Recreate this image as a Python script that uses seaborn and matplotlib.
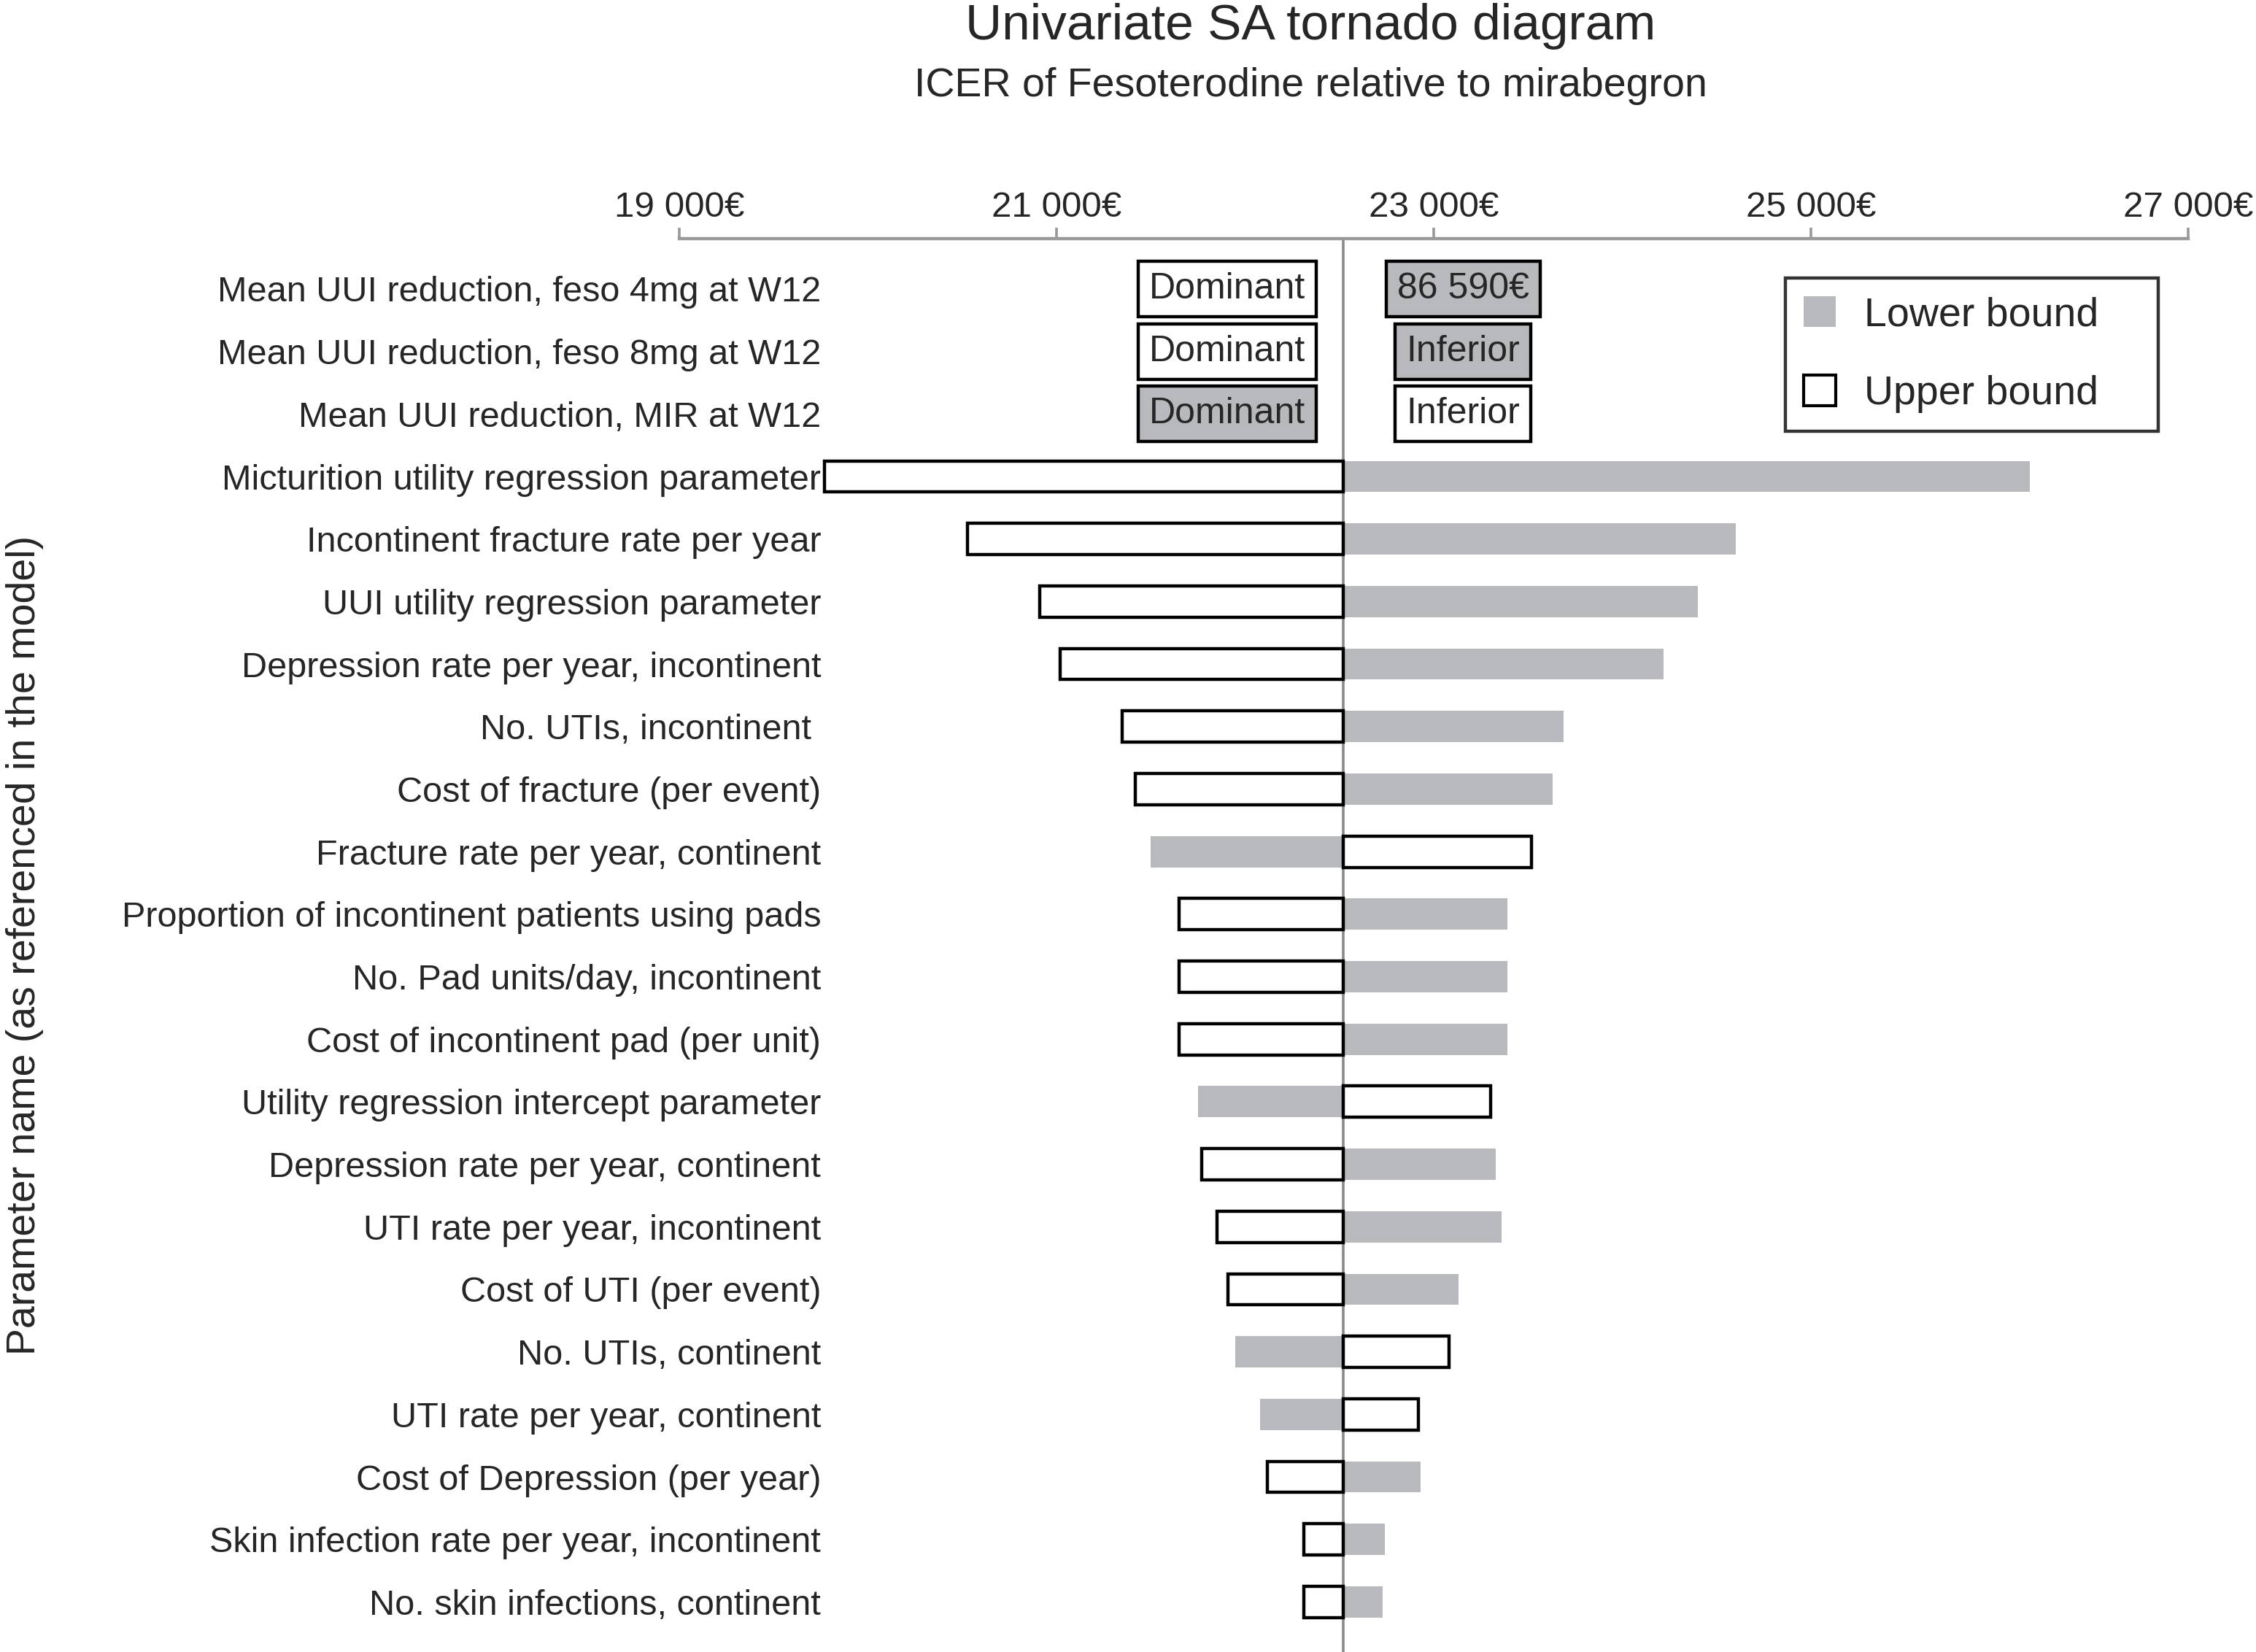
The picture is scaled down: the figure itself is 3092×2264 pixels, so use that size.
import numpy as np
import pandas as pd
import matplotlib
matplotlib.use("Agg")
import matplotlib.pyplot as plt
import matplotlib.ticker as mticker
from matplotlib.patches import Patch
import seaborn as sns

# Datos del diagrama tornado (ICER en euros)
BASE_ICER = 22520

parametros = [
    "Mean UUI reduction, feso 4mg at W12",
    "Mean UUI reduction, feso 8mg at W12",
    "Mean UUI reduction, MIR at W12",
    "Micturition utility regression parameter",
    "Incontinent fracture rate per year",
    "UUI utility regression parameter",
    "Depression rate per year, incontinent",
    "No. UTIs, incontinent ",
    "Cost of fracture (per event)",
    "Fracture rate per year, continent",
    "Proportion of incontinent patients using pads",
    "No. Pad units/day, incontinent",
    "Cost of incontinent pad (per unit)",
    "Utility regression intercept parameter",
    "Depression rate per year, continent",
    "UTI rate per year, incontinent",
    "Cost of UTI (per event)",
    "No. UTIs, continent",
    "UTI rate per year, continent",
    "Cost of Depression (per year)",
    "Skin infection rate per year, incontinent",
    "No. skin infections, continent",
]

# Lower bound (gris) y upper bound (blanco); NaN = resultado no numerico
icer_lower = [np.nan, np.nan, np.nan,
              26160, 24600, 24400, 24220, 23690, 23630, 21500,
              23390, 23390, 23390, 21750, 23330, 23360, 23130,
              21950, 22080, 22930, 22740, 22730]
icer_upper = [np.nan, np.nan, np.nan,
              19770, 20530, 20910, 21020, 21350, 21420, 23520,
              21650, 21650, 21650, 23300, 21770, 21850, 21910,
              23080, 22920, 22120, 22310, 22310]

# Resultados no numericos de las tres primeras filas: (texto, es_lower)
texto_izq = [("Dominant", False), ("Dominant", False), ("Dominant", True)]
texto_der = [("86 590€", True), ("Inferior", True), ("Inferior", False)]

ticks_eur = [19000, 21000, 23000, 25000, 27000]

GRIS = "#b8b9bc"

sns.set_style("white")
plt.rcParams["font.family"] = ["Liberation Sans", "DejaVu Sans"]

df = pd.DataFrame({
    "parametro": parametros,
    "lower": np.array(icer_lower) - BASE_ICER,
    "upper": np.array(icer_upper) - BASE_ICER,
})

fig = plt.figure(figsize=(15.46, 11.32), dpi=200)
ax = fig.add_axes([0.301, 0.0, 0.669, 0.8554])

sns.barplot(data=df, x="lower", y="parametro", order=parametros, orient="y",
            color=GRIS, saturation=1, width=0.5, errorbar=None, ax=ax,
            linewidth=0)
sns.barplot(data=df, x="upper", y="parametro", order=parametros, orient="y",
            color="white", saturation=1, width=0.5, errorbar=None, ax=ax,
            edgecolor="black", linewidth=1.6)

# Cajas de texto para los resultados dominantes / inferiores
for i, ((t_izq, low_izq), (t_der, low_der)) in enumerate(zip(texto_izq, texto_der)):
    for t, es_low, xpos in [(t_izq, low_izq, -615), (t_der, low_der, 635)]:
        ax.text(xpos, i, t, ha="center", va="center", fontsize=18,
                bbox=dict(boxstyle="square,pad=0.3",
                          facecolor=GRIS if es_low else "white",
                          edgecolor="black", linewidth=1.6))

ax.axvline(0, color="#8a8a8a", linewidth=1.3, zorder=0)

ax.set_xlim(ticks_eur[0] - BASE_ICER, ticks_eur[-1] - BASE_ICER)
ax.set_ylim(21.8, -0.8)
ax.set_xticks([t - BASE_ICER for t in ticks_eur])
ax.xaxis.set_major_formatter(mticker.FuncFormatter(
    lambda v, p: f"{v + BASE_ICER:,.0f}".replace(",", " ") + "€"))
ax.xaxis.tick_top()
ax.tick_params(axis="x", top=True, bottom=False, length=5.5, width=1.3,
               color="#999999", labelsize=17.8, pad=2.0)
ax.tick_params(axis="y", length=0, labelsize=17.5, pad=-70)

for lado in ["bottom", "left", "right"]:
    ax.spines[lado].set_visible(False)
ax.spines["top"].set_color("#999999")
ax.spines["top"].set_linewidth(1.6)

ax.set_xlabel("")
ax.set_ylabel("Parameter name (as referenced in the model)", fontsize=20)
ax.yaxis.set_label_coords(-0.421, 0.5)

handles = [Patch(facecolor=GRIS, edgecolor="none", label="Lower bound"),
           Patch(facecolor="white", edgecolor="black", linewidth=1.5, label="Upper bound")]
leg = ax.legend(handles=handles, loc="upper left",
                bbox_to_anchor=(0.733, 0.8725, 0.247, 0.1), mode="expand",
                fontsize=20, frameon=True, fancybox=False, handlelength=0.8,
                handleheight=0.8, handletextpad=0.7, labelspacing=1.0,
                borderpad=0.45, borderaxespad=0)
leg.get_frame().set_edgecolor("black")
leg.get_frame().set_linewidth(1.6)

fig.text(0.581, 0.9843, "Univariate SA tornado diagram", ha="center", va="center", fontsize=25)
fig.text(0.581, 0.9477, "ICER of Fesoterodine relative to mirabegron", ha="center", va="center", fontsize=20)

fig.savefig("out.png", dpi=200)
